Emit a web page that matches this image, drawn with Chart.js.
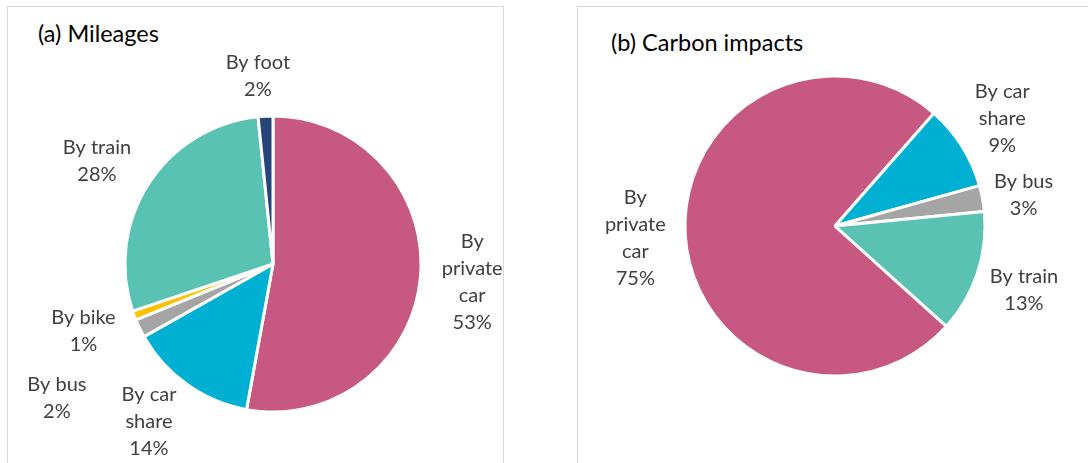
<!DOCTYPE html>
<html>
<head>
<meta charset="utf-8">
<script src="https://cdn.jsdelivr.net/npm/chart.js@4/dist/chart.umd.min.js"></script>
<style>
  html, body { margin: 0; padding: 0; background: #fff; width: 1088px; height: 463px; overflow: hidden; }
  .panel { position: absolute; top: 6px; border: 1px solid #d9d9d9; background: #fff; }
  #panelA { left: 7px; width: 495px; height: 480px; }
  #panelB { left: 577px; width: 540px; height: 480px; }
  .panel canvas { position: absolute; left: 0; top: 0; }
  .title { position: absolute; font-family: Lato, "Open Sans", sans-serif; font-weight: 400; font-size: 23.5px; color: #000; white-space: nowrap; }
</style>
</head>
<body>
<div class="panel" id="panelA">
  <div class="title" style="left:30px; top:12px;">(a) Mileages</div>
  <canvas id="mileChart" width="495" height="457"></canvas>
</div>
<div class="panel" id="panelB">
  <div class="title" style="left:33px; top:21px;">(b) Carbon impacts</div>
  <canvas id="carbonChart" width="510" height="457"></canvas>
</div>
<script>
// ---- data ----
const mileLabels = ['By private car', 'By car share', 'By bus', 'By bike', 'By train', 'By foot'];
const mileValues = [52.6, 13.9, 2.0, 1.0, 28.4, 1.6];
const mileColors = ['#C75882', '#00B0D2', '#A5A5A5', '#FFC000', '#5AC2B2', '#264478'];

const carbonLabels = ['By private car', 'By car share', 'By bus', 'By train'];
const carbonValues = [74.8, 9.2, 2.8, 13.2];
const carbonColors = ['#C75882', '#00B0D2', '#A5A5A5', '#5AC2B2'];

// how each label is broken into lines (Excel wraps them like this)
const mileLines = [['By', 'private', 'car'], ['By car', 'share'], ['By bus'], ['By bike'], ['By train'], ['By foot']];
const carbonLines = [['By', 'private', 'car'], ['By car', 'share'], ['By bus'], ['By train']];

// label placement: distance beyond the rim, then a small nudge [dx, dy]
const mileNudge = [[0, 0], [-8, -5], [-36, 47], [-2, -3], [-8, 5], [-5, 12]];
const carbonNudge = [[0, 0], [-2, -1], [-8, 6], [-1, 1]];

// ---- outside labels, drawn from the arcs ----
const pieLabels = {
    id: 'pieLabels',
    afterDatasetsDraw(chart, args, opts) {
        const ctx = chart.ctx;
        const meta = chart.getDatasetMeta(0);
        const values = chart.data.datasets[0].data;
        ctx.save();
        ctx.font = '20px Lato, "Open Sans", sans-serif';
        ctx.fillStyle = '#404040';
        ctx.textAlign = 'center';
        ctx.textBaseline = 'middle';
        meta.data.forEach((arc, i) => {
            const p = arc.getProps(['x', 'y', 'startAngle', 'endAngle', 'outerRadius'], true);
            const mid = (p.startAngle + p.endAngle) / 2;
            const d = p.outerRadius + opts.gap;
            const nudge = opts.nudge[i] || [0, 0];
            const cx = p.x + Math.cos(mid) * d + nudge[0];
            const cy = p.y + Math.sin(mid) * d + nudge[1];
            const lines = opts.lines[i].concat([Math.round(values[i]) + '%']);
            const lh = 27;
            const top = cy - (lines.length - 1) * lh / 2;
            lines.forEach((t, k) => ctx.fillText(t, cx, top + k * lh));
        });
        ctx.restore();
    }
};

function makePie(id, labels, values, colors, opts) {
    return new Chart(document.getElementById(id), {
        type: 'pie',
        data: {
            labels: labels,
            datasets: [{
                data: values,
                backgroundColor: colors,
                borderColor: '#ffffff',
                borderWidth: 3,
                hoverOffset: 0
            }]
        },
        options: {
            responsive: false,
            animation: false,
            rotation: opts.rotation,
            radius: opts.radius,
            layout: { padding: opts.padding },
            plugins: {
                legend: { display: false },
                tooltip: { enabled: false },
                title: { display: false },
                pieLabels: { gap: opts.gap, nudge: opts.nudge, lines: opts.lines }
            },
            events: []
        },
        plugins: [pieLabels]
    });
}

// pie (a): centre at (265, 257) inside the panel, radius 148
makePie('mileChart', mileLabels, mileValues, mileColors, {
    rotation: 0,
    radius: 148,
    padding: { left: 117, right: 495 - 413, top: 109, bottom: 457 - 405 },
    gap: 52,
    nudge: mileNudge,
    lines: mileLines
});

// pie (b): centre at (257, 219) inside the panel, radius 150
makePie('carbonChart', carbonLabels, carbonValues, carbonColors, {
    rotation: 132,
    radius: 150,
    padding: { left: 107, right: 510 - 407, top: 69, bottom: 457 - 369 },
    gap: 50,
    nudge: carbonNudge,
    lines: carbonLines
});
</script>
</body>
</html>
